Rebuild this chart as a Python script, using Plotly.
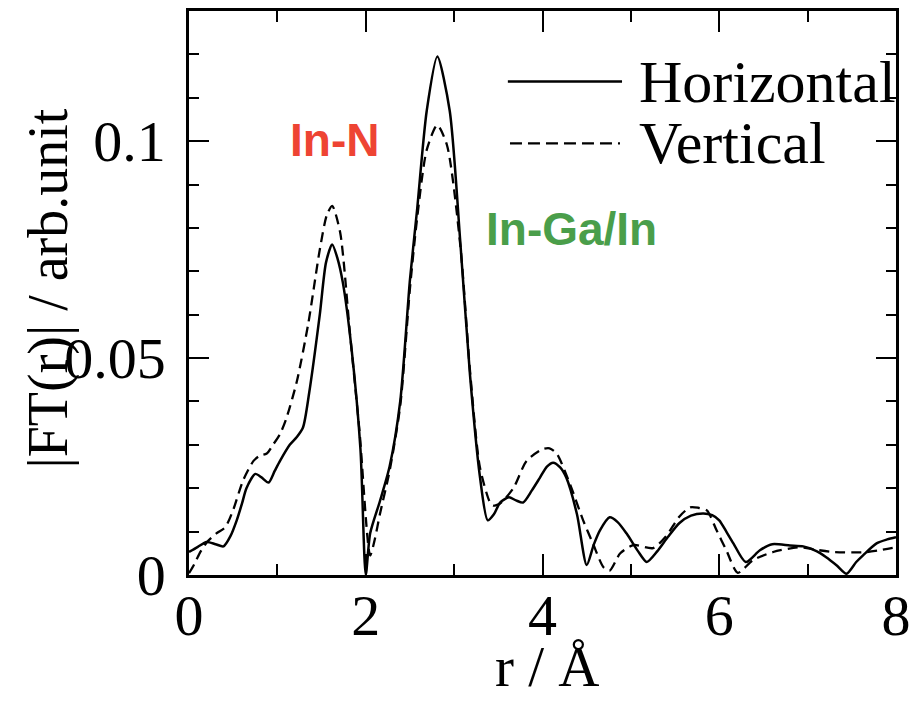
import plotly.graph_objects as go

# Horizontal (solid)
r_h = [0.00, 0.10, 0.20, 0.30, 0.39, 0.47, 0.54, 0.60, 0.65, 0.75, 0.82, 0.90, 0.97, 1.03,
       1.14, 1.22, 1.29, 1.36, 1.48, 1.55, 1.62, 1.68, 1.74, 1.84, 1.94, 2.00, 2.05, 2.16,
       2.27, 2.39, 2.50, 2.58, 2.69, 2.81, 2.95, 3.07, 3.18, 3.29, 3.38, 3.45, 3.52, 3.62,
       3.70, 3.78, 3.88, 3.97, 4.05, 4.12, 4.20, 4.27, 4.39, 4.50, 4.58, 4.65, 4.76, 4.85,
       4.95, 5.08, 5.18, 5.30, 5.42, 5.55, 5.68, 5.82, 5.92, 6.00, 6.08, 6.16, 6.30, 6.46,
       6.60, 6.80, 6.95, 7.10, 7.21, 7.33, 7.44, 7.55, 7.63, 7.78, 7.90, 8.00]
ft_h = [0.0053, 0.0065, 0.0076, 0.0071, 0.0066, 0.0090, 0.0126, 0.0165, 0.0200, 0.0233, 0.0225,
        0.0213, 0.0240, 0.0263, 0.0300, 0.0318, 0.0340, 0.0420, 0.0600, 0.0720, 0.0762, 0.0730,
        0.0675, 0.0520, 0.0290, 0.0000, 0.0096, 0.0170, 0.0250, 0.0400, 0.0680, 0.0840, 0.1070,
        0.1195, 0.1070, 0.0767, 0.0460, 0.0230, 0.0126, 0.0140, 0.0167, 0.0179, 0.0172, 0.0167,
        0.0195, 0.0224, 0.0250, 0.0259, 0.0248, 0.0224, 0.0140, 0.0023, 0.0070, 0.0103, 0.0133,
        0.0122, 0.0096, 0.0055, 0.0030, 0.0055, 0.0088, 0.0120, 0.0137, 0.0142, 0.0138, 0.0126,
        0.0100, 0.0073, 0.0030, 0.0057, 0.0071, 0.0068, 0.0066, 0.0055, 0.0041, 0.0022, 0.0003,
        0.0030, 0.0046, 0.0073, 0.0082, 0.0087]

# Vertical (dashed)
r_v = [0.00, 0.06, 0.12, 0.20, 0.31, 0.41, 0.50, 0.61, 0.73, 0.80, 0.88, 0.95, 1.03, 1.10,
       1.22, 1.35, 1.48, 1.56, 1.62, 1.71, 1.82, 1.93, 2.05, 2.10, 2.16, 2.27, 2.39, 2.50,
       2.58, 2.69, 2.81, 2.92, 3.07, 3.18, 3.29, 3.40, 3.44, 3.52, 3.67, 3.82, 4.00, 4.08,
       4.16, 4.31, 4.46, 4.57, 4.69, 4.76, 4.88, 5.03, 5.25, 5.40, 5.55, 5.67, 5.76, 5.86,
       5.97, 6.08, 6.21, 6.38, 6.61, 6.91, 7.10, 7.29, 7.67, 8.00]
ft_v = [0.0004, 0.0025, 0.0050, 0.0075, 0.0096, 0.0110, 0.0150, 0.0217, 0.0263, 0.0275, 0.0280,
        0.0300, 0.0325, 0.0360, 0.0446, 0.0580, 0.0750, 0.0830, 0.0851, 0.0790, 0.0560, 0.0330,
        0.0045, 0.0080, 0.0140, 0.0240, 0.0390, 0.0660, 0.0820, 0.0980, 0.1037, 0.0990, 0.0760,
        0.0470, 0.0250, 0.0170, 0.0160, 0.0165, 0.0200, 0.0263, 0.0290, 0.0292, 0.0280, 0.0210,
        0.0126, 0.0073, 0.0018, 0.0010, 0.0050, 0.0069, 0.0062, 0.0090, 0.0135, 0.0156, 0.0155,
        0.0149, 0.0103, 0.0057, 0.0005, 0.0034, 0.0053, 0.0064, 0.0058, 0.0053, 0.0053, 0.0064]

x_ticks = [0, 2, 4, 6, 8]
y_ticks = [0, 0.05, 0.1]
y_tick_text = ["0", "0.05", "0.1"]

SERIF = "Liberation Serif, Times New Roman, serif"
SANS = "Liberation Sans, Arial, sans-serif"

fig = go.Figure()
fig.add_trace(go.Scatter(x=r_h, y=ft_h, mode="lines", name="Horizontal",
                         line=dict(color="black", width=2.5, shape="spline", smoothing=0.7)))
fig.add_trace(go.Scatter(x=r_v, y=ft_v, mode="lines", name="Vertical",
                         line=dict(color="black", width=2.3, dash="10px,6px", shape="spline", smoothing=0.7)))

axis_common = dict(showline=True, linecolor="black", linewidth=2.5, mirror="allticks",
                   ticks="inside", tickcolor="black", tickwidth=2, showgrid=False, zeroline=False,
                   tickfont=dict(family=SERIF, size=58, color="black"))

fig.update_xaxes(range=[0, 8], tickvals=x_ticks, ticklen=21,
                 minor=dict(dtick=1, ticklen=11, ticks="inside", tickcolor="black", tickwidth=2),
                 ticklabelstandoff=-12, **axis_common)
fig.update_yaxes(range=[0, 0.13], tickvals=y_ticks, ticktext=y_tick_text, ticklen=20,
                 minor=dict(dtick=0.01, ticklen=10, ticks="inside", tickcolor="black", tickwidth=2),
                 ticklabelstandoff=9, **axis_common)

annotations = [
    dict(text="r / Å", x=0.506, y=-0.2222, xref="paper", yref="paper", showarrow=False,
         xanchor="center", yanchor="bottom", font=dict(family=SERIF, size=57, color="black")),
    dict(text="|FT(r)| / arb.unit", x=-0.1994, y=0.508, xref="paper", yref="paper",
         showarrow=False, textangle=-90, xanchor="center", yanchor="middle",
         font=dict(family=SERIF, size=56, color="black")),
    dict(text="<b>In-N</b>", x=0.2065, y=0.771, xref="paper", yref="paper", showarrow=False,
         xanchor="center", yanchor="middle", font=dict(family=SANS, size=46, color="#EE4433")),
    dict(text="<b>In-Ga/In</b>", x=0.5417, y=0.614, xref="paper", yref="paper", showarrow=False,
         xanchor="center", yanchor="middle", font=dict(family=SANS, size=46, color="#4A9E4A")),
    dict(text="Horizontal", x=0.6337, y=0.875, xref="paper", yref="paper", showarrow=False,
         xanchor="left", yanchor="middle", font=dict(family=SERIF, size=60, color="black")),
    dict(text="Vertical", x=0.6337, y=0.7656, xref="paper", yref="paper", showarrow=False,
         xanchor="left", yanchor="middle", font=dict(family=SERIF, size=60, color="black")),
]

shapes = [
    dict(type="line", xref="paper", yref="paper", x0=0.451, x1=0.6125, y0=0.8748, y1=0.8748,
         line=dict(color="black", width=2.5)),
    dict(type="line", xref="paper", yref="paper", x0=0.454, x1=0.6096, y0=0.7654, y1=0.7654,
         line=dict(color="black", width=2.3, dash="12px,6px")),
]

fig.update_layout(width=921, height=701, margin=dict(l=189, r=25, t=8, b=126),
                  paper_bgcolor="white", plot_bgcolor="white", showlegend=False,
                  annotations=annotations, shapes=shapes)

fig.write_html("out.html")
